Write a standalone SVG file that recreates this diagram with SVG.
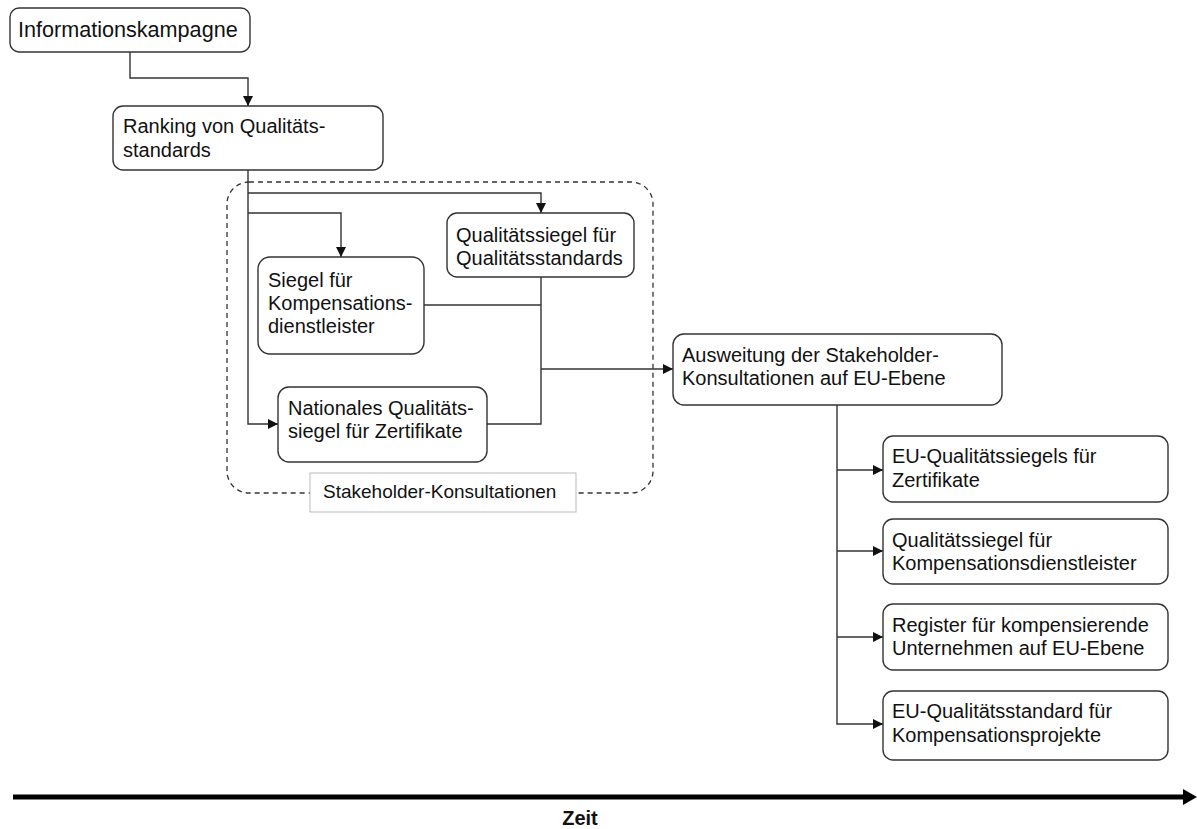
<svg xmlns="http://www.w3.org/2000/svg" width="1197" height="829" viewBox="0 0 1197 829">
<style>
.box{fill:#fff;stroke:#333;stroke-width:1.4}
.t{font-family:"Liberation Sans",Arial,sans-serif;font-size:20px;fill:#111}
.c{fill:none;stroke:#333;stroke-width:1.4}
</style>
<defs>
<marker id="ah" viewBox="0 0 10 10" refX="10" refY="5" markerWidth="10" markerHeight="10" markerUnits="userSpaceOnUse" orient="auto"><path d="M0,0 L10,5 L0,10 Z" fill="#111"/></marker>
</defs>
<rect width="1197" height="829" fill="#fff"/>
<g id="stakeholder-group">
<rect x="227" y="182" width="426" height="311" rx="22" fill="none" stroke="#333" stroke-width="1.3" stroke-dasharray="5,4"/>
</g>
<g id="connectors">
<path class="c" d="M130,52 V78 H248 V106" marker-end="url(#ah)"/>
<path class="c" d="M248,170 V424 H278" marker-end="url(#ah)"/>
<path class="c" d="M248,193 H541 V213" marker-end="url(#ah)"/>
<path class="c" d="M248,213 H341 V257" marker-end="url(#ah)"/>
<path class="c" d="M541,277 V424 H487"/>
<path class="c" d="M424,305 H541"/>
<path class="c" d="M541,369 H673" marker-end="url(#ah)"/>
<path class="c" d="M837,405 V724 H883" marker-end="url(#ah)"/>
<path class="c" d="M837,470 H883" marker-end="url(#ah)"/>
<path class="c" d="M837,551 H883" marker-end="url(#ah)"/>
<path class="c" d="M837,637 H883" marker-end="url(#ah)"/>
</g>
<g id="n-info"><rect class="box" x="10" y="8" width="240" height="44" rx="9"/><text class="t" x="18" y="37" style="font-size:21.6px">Informationskampagne</text></g>
<g id="n-ranking"><rect class="box" x="113" y="106" width="270" height="64" rx="10"/><text class="t" x="123" y="133">Ranking von Qualitäts-</text><text class="t" x="123" y="157">standards</text></g>
<g id="n-qsiegel"><rect class="box" x="447" y="213" width="187" height="64" rx="10"/><text class="t" x="456" y="242">Qualitätssiegel für</text><text class="t" x="456" y="265">Qualitätsstandards</text></g>
<g id="n-siegel"><rect class="box" x="258" y="257" width="166" height="97" rx="12"/><text class="t" x="268" y="287">Siegel für</text><text class="t" x="268" y="310">Kompensations-</text><text class="t" x="268" y="333">dienstleister</text></g>
<g id="n-national"><rect class="box" x="278" y="387" width="209" height="75" rx="11"/><text class="t" x="288" y="415">Nationales Qualitäts-</text><text class="t" x="288" y="438">siegel für Zertifikate</text></g>
<g id="n-stakeholder-label"><rect x="310" y="473" width="266" height="39" fill="#fff" stroke="#bbb" stroke-width="1"/><text class="t" x="323" y="498" style="font-size:19px">Stakeholder-Konsultationen</text></g>
<g id="n-ausweitung"><rect class="box" x="673" y="334" width="329" height="71" rx="11"/><text class="t" x="682" y="362">Ausweitung der Stakeholder-</text><text class="t" x="682" y="385">Konsultationen auf EU-Ebene</text></g>
<g id="n-eu1"><rect class="box" x="883" y="436" width="285" height="66" rx="10"/><text class="t" x="892" y="463">EU-Qualitätssiegels für</text><text class="t" x="892" y="487">Zertifikate</text></g>
<g id="n-eu2"><rect class="box" x="883" y="519" width="285" height="65" rx="10"/><text class="t" x="892" y="547">Qualitätssiegel für</text><text class="t" x="892" y="570">Kompensationsdienstleister</text></g>
<g id="n-eu3"><rect class="box" x="883" y="604" width="285" height="66" rx="10"/><text class="t" x="892" y="632">Register für kompensierende</text><text class="t" x="892" y="655">Unternehmen auf EU-Ebene</text></g>
<g id="n-eu4"><rect class="box" x="883" y="691" width="285" height="69" rx="10"/><text class="t" x="892" y="718">EU-Qualitätsstandard für</text><text class="t" x="892" y="742">Kompensationsprojekte</text></g>
<g id="timeline">
<line x1="13" y1="797" x2="1185" y2="797" stroke="#000" stroke-width="5"/>
<path d="M1183,789 L1197,797 L1183,805 Z" fill="#000"/>
<text x="580" y="825" text-anchor="middle" style="font-family:'Liberation Sans',Arial,sans-serif;font-size:20px;font-weight:bold;fill:#111">Zeit</text>
</g>
</svg>
